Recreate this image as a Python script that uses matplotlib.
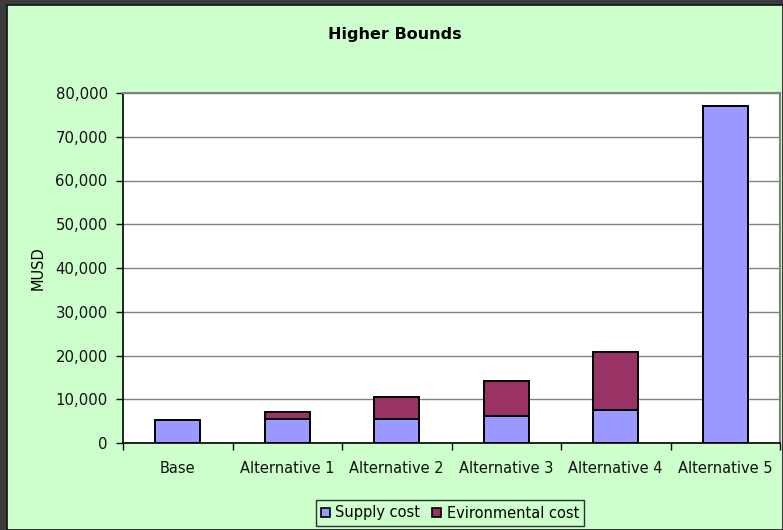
import matplotlib.pyplot as plt
import matplotlib.patches as patches
import numpy as np

categories = ["Base", "Alternative 1", "Alternative 2", "Alternative 3", "Alternative 4", "Alternative 5"]
supply_cost = [5300, 5400, 5600, 6100, 7500, 77000]
env_cost = [0, 1800, 4900, 8000, 13300, 0]

y_ticks = [0, 10000, 20000, 30000, 40000, 50000, 60000, 70000, 80000]

supply_color = "#9999ff"
env_color = "#993366"

fig = plt.figure(figsize=(7.83, 5.30), dpi=100)
fig.patch.set_facecolor("#3c3c3c")

# green chart area
bg = patches.Rectangle((7 / 783, 0), 1 - 7 / 783, 1 - 5 / 530, transform=fig.transFigure,
                       facecolor="#ccffcc", edgecolor="#111111", linewidth=1.2, zorder=-10)
fig.patches.append(bg)

ax = fig.add_axes([123 / 783, 87 / 530, 657 / 783, 350 / 530])
ax.set_facecolor("white")

x = np.arange(len(categories))
ax.bar(x, supply_cost, width=0.41, color=supply_color, edgecolor="black", linewidth=1.4, zorder=3)
idx = [i for i, v in enumerate(env_cost) if v > 0]
ax.bar(x[idx], [env_cost[i] for i in idx], width=0.41, bottom=[supply_cost[i] for i in idx],
       color=env_color, edgecolor="black", linewidth=1.4, zorder=3)

ax.set_xlim(-0.5, 5.5)
ax.set_ylim(0, 80000)
ax.set_yticks(y_ticks)
ax.set_yticklabels([f"{v:,}" for v in y_ticks])
ax.yaxis.grid(True, color="#808080", linewidth=1)
ax.set_axisbelow(True)

ax.set_xticks(x)
ax.set_xticklabels(categories)
ax.set_xticks(np.arange(-0.5, 6.0, 1.0), minor=True)
ax.tick_params(axis="x", which="major", length=0, pad=13, labelsize=10.5, colors="#111111")
ax.tick_params(axis="x", which="minor", length=5, width=1, direction="out")
ax.tick_params(axis="y", length=5, width=1, pad=6, labelsize=10.7, colors="#111111")

ax.spines["left"].set_color("black")
ax.spines["bottom"].set_color("black")
ax.spines["left"].set_linewidth(1.2)
ax.spines["bottom"].set_linewidth(1.2)
ax.spines["top"].set_color("#808080")
ax.spines["right"].set_color("#808080")
ax.spines["top"].set_linewidth(1.5)
ax.spines["right"].set_linewidth(1.5)

ax.set_ylabel("MUSD", fontsize=10.5, labelpad=7)

fig.text(395 / 783, 1 - 35 / 530, "Higher Bounds", ha="center", va="center",
         fontsize=11.5, fontweight="bold")

handles = [patches.Patch(facecolor=supply_color, edgecolor="black", linewidth=1.2, label="Supply cost"),
           patches.Patch(facecolor=env_color, edgecolor="black", linewidth=1.2, label="Evironmental cost")]
leg = fig.legend(handles=handles, loc="center", bbox_to_anchor=(450 / 783, 1 - 513 / 530), ncol=2,
                 fontsize=10.5, frameon=True, fancybox=False, handlelength=0.6,
                 handleheight=0.6, handletextpad=0.4, columnspacing=0.8,
                 borderpad=0.35, borderaxespad=0)
leg.get_frame().set_edgecolor("black")
leg.get_frame().set_facecolor("#ccffcc")
leg.get_frame().set_linewidth(1)

fig.savefig("out.png", dpi=100, facecolor=fig.get_facecolor())
